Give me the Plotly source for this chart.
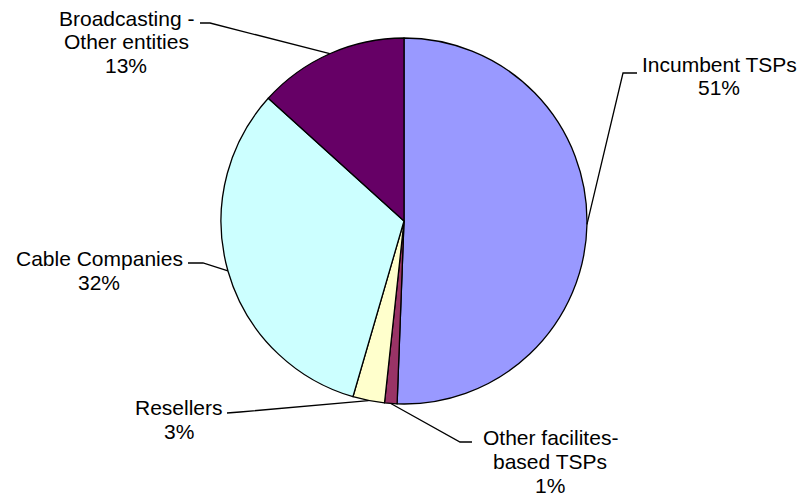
import math
import plotly.graph_objects as go

# Share of revenues by type of provider (percent)
categories = [
    "Incumbent TSPs",
    "Other facilites-|based TSPs",
    "Resellers",
    "Cable Companies",
    "Broadcasting -|Other entities",
]
values = [50.6, 1.1, 2.8, 32.2, 13.3]
colors = ["#9999FF", "#993366", "#FFFFCC", "#CCFFFF", "#660066"]

W, H = 804, 498
CX, CY, R = 404, 221, 183  # pie centre and radius in pixels
LINE_GAP = 24  # pixels between label lines
FONT = dict(family="Liberation Sans, Arial, sans-serif", size=21, color="black")


def px(x):
    return x / W


def py(y):
    return 1 - y / H


# label placement: (text centre x, text centre y, elbow x, elbow y, end x, end y)
label_layout = [
    (719, 76, 623, 73, 637, 73),
    (550, 461, 460, 442, 472, 442),
    (179, 419, 240, 412, 227, 413),
    (99, 270, 203, 263, 188, 263),
    (126, 42, 210, 23, 200, 23),
]

fig = go.Figure(
    go.Pie(
        labels=[c.replace("|", " ") for c in categories],
        values=values,
        sort=False,
        direction="clockwise",
        rotation=0,
        marker=dict(colors=colors, line=dict(color="black", width=1.3)),
        textinfo="none",
        hoverinfo="label+percent",
        showlegend=False,
        domain=dict(x=[px(CX - R), px(CX + R)], y=[py(CY + R), py(CY - R)]),
    )
)

total = sum(values)
cum = 0.0
shapes = []
annotations = []
for cat, v, (tx, ty, ex, ey, endx, endy) in zip(categories, values, label_layout):
    mid = (cum + v / 2) / total
    cum += v
    theta = 2 * math.pi * mid
    ax = CX + R * math.sin(theta)
    ay = CY - R * math.cos(theta)
    pts = [(ax, ay), (ex, ey), (endx, endy)]
    path = "M " + " L ".join(f"{px(x):.5f},{py(y):.5f}" for x, y in pts)
    shapes.append(
        dict(type="path", xref="paper", yref="paper", path=path,
             line=dict(color="black", width=1.3))
    )
    pct = round(v / total * 100)
    lines = cat.split("|") + [f"{pct}%"]
    n = len(lines)
    for i, line in enumerate(lines):
        ly = ty + (i - (n - 1) / 2) * LINE_GAP
        annotations.append(
            dict(
                x=px(tx), y=py(ly), xref="paper", yref="paper",
                xanchor="center", yanchor="middle", showarrow=False,
                text=line, font=FONT, align="center",
            )
        )

fig.update_layout(
    width=W, height=H,
    margin=dict(l=0, r=0, t=0, b=0),
    paper_bgcolor="white",
    plot_bgcolor="white",
    shapes=shapes,
    annotations=annotations,
)

fig.write_html("out.html")
